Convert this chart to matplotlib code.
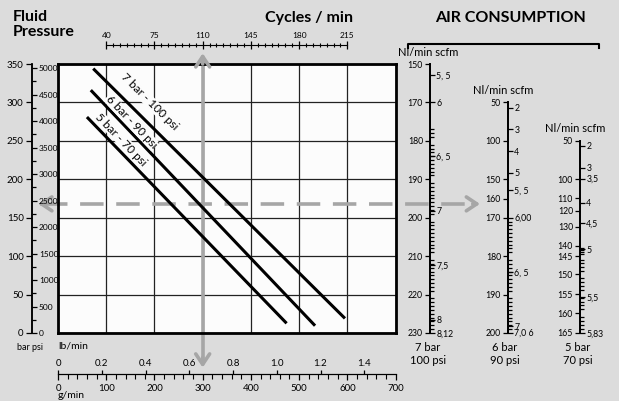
import numpy as np
import matplotlib
matplotlib.use('Agg')
import matplotlib.pyplot as plt

W, H = 619, 401
plt.rcParams['font.family'] = ['Lato', 'DejaVu Sans']

# ---- data ----
pressure_labels = ['7 bar - 100 psi', '6 bar - 90 psi', '5 bar - 70 psi']
flow_start_g = [73, 68, 60]
press_start_bar = [344, 316, 281]
flow_end_g = [595, 533, 474]
press_end_bar = [19, 9.5, 12.6]

cycles_ticks = [40, 75, 110, 145, 180, 215]
bar_ticks = [0, 50, 100, 150, 200, 250, 300, 350]
psi_ticks = [0, 500, 1000, 1500, 2000, 2500, 3000, 3500, 4000, 4500, 5000]
gmin_ticks = [0, 100, 200, 300, 400, 500, 600, 700]
lbmin_ticks = [0, 0.2, 0.4, 0.6, 0.8, 1.0, 1.2, 1.4]

example_flow_g = 300
example_press_bar = 168

# air consumption scales (Nl/min ticks, their row position on the grid, scfm ticks)
nl_7bar = [150, 170, 180, 190, 200, 210, 220, 230]
rows_7bar = [0, 1, 2, 3, 4, 5, 6, 7]
scfm_7bar = [5.5, 6, 6.5, 7, 7.5, 8, 8.12]
scfm_7bar_labels = ['5, 5', '6', '6, 5', '7', '7,5', '8', '8,12']

nl_6bar = [50, 100, 150, 160, 170, 180, 190, 200]
rows_6bar = [1, 2, 3, 3.5, 4, 5, 6, 7]
scfm_6bar = [2, 3, 4, 5, 5.5, 6, 6.5, 7, 7.06]
scfm_6bar_labels = ['2', '3', '4', '5', '5, 5', '6,00', '6, 5', '7', '7,0 6']

nl_5bar = [50, 100, 110, 120, 130, 140, 145, 150, 155, 160, 165]
rows_5bar = [2, 3, 3.5, 3.82, 4.24, 4.73, 5.0, 5.47, 5.99, 6.48, 7]
scfm_5bar = [2, 3, 3.5, 4, 4.5, 5, 5.5, 5.83]
scfm_5bar_labels = ['2', '3', '3,5', '4', '4,5', '5', '5,5', '5,83']

SCFM = 28.3168
PSI = 14.5038
LB = 453.592

BG = '#dcdcdc'
GRAY = '#a6a6a6'

# grid geometry in pixels
GL, GR, GT, GB = 58, 395.6, 64, 333
ROW = (GB - GT) / 7


def fx(x):
    return x / W


def fy(y):
    return 1 - y / H


def bare(a, keep):
    # zero-size axes used as a single graduated line
    a.patch.set_visible(False)
    for k in ['left', 'right', 'top', 'bottom']:
        a.spines[k].set_visible(k == keep)


fig = plt.figure(figsize=(W / 100, H / 100), dpi=100, facecolor=BG)

# ---- main grid ----
ax = fig.add_axes([fx(GL), fy(GB), (GR - GL) / W, (GB - GT) / H])
ax.set_facecolor('#fcfcfc')
ax.set_xlim(0, 700)
ax.set_ylim(0, 350)
ax.set_xticks(gmin_ticks)
ax.set_yticks(bar_ticks)
ax.tick_params(length=0, labelbottom=False, labelleft=False)
ax.grid(True, color='#222222', lw=0.9, zorder=1)
ax.set_axisbelow(True)
for s in ax.spines.values():
    s.set_linewidth(2)

# example arrows (grey)
ax.plot([-30, 862], [example_press_bar] * 2, color=GRAY, lw=2.6,
        dashes=(6.5, 3.5), clip_on=False, zorder=2)
ax.plot([example_flow_g] * 2, [352, -34], color=GRAY, lw=2.6, clip_on=False, zorder=2)
head = dict(arrowstyle='->,head_length=0.75,head_width=0.5', color=GRAY, lw=2.6,
            shrinkA=0, shrinkB=0)
ax.annotate('', xy=(-41, example_press_bar), xytext=(-28, example_press_bar),
            arrowprops=head, annotation_clip=False)
ax.annotate('', xy=(875, example_press_bar), xytext=(860, example_press_bar),
            arrowprops=head, annotation_clip=False)
ax.annotate('', xy=(example_flow_g, 364), xytext=(example_flow_g, 350),
            arrowprops=head, annotation_clip=False)
ax.annotate('', xy=(example_flow_g, -45), xytext=(example_flow_g, -32),
            arrowprops=head, annotation_clip=False)

label_pos = [(190, 301), (152, 275), (131, 252)]
for i in range(3):
    ax.plot([flow_start_g[i], flow_end_g[i]], [press_start_bar[i], press_end_bar[i]],
            color='black', lw=2.2, solid_capstyle='butt', zorder=4)
    p1 = ax.transData.transform((flow_start_g[i], press_start_bar[i]))
    p2 = ax.transData.transform((flow_end_g[i], press_end_bar[i]))
    ang = np.degrees(np.arctan2(p2[1] - p1[1], p2[0] - p1[0]))
    ax.text(*label_pos[i], pressure_labels[i], rotation=ang, rotation_mode='anchor',
            ha='center', va='center', fontsize=8.5, zorder=5,
            bbox=dict(fc='#fcfcfc', ec='none', pad=0.3))

# ---- pressure scale (bar left / psi right) ----
rect_p = [fx(32), fy(GB), 1e-4, (GB - GT) / H]
axp = fig.add_axes(rect_p)
bare(axp, 'left')
axp.set_ylim(0, 350)
axp.set_yticks(bar_ticks)
axp.xaxis.set_visible(False)
axp.spines['left'].set_linewidth(1.1)
axp.tick_params(axis='y', length=4, width=0.9, labelsize=7, pad=2)

axq = fig.add_axes(rect_p)
bare(axq, 'right')
axq.set_ylim(0, 350 * PSI)
axq.yaxis.tick_right()
axq.set_yticks(psi_ticks)
axq.set_yticks(range(250, 5000, 500), minor=True)
axq.xaxis.set_visible(False)
axq.spines['right'].set_linewidth(1.1)
axq.tick_params(axis='y', which='major', length=3.5, width=0.9, labelsize=6, pad=1.5)
axq.tick_params(axis='y', which='minor', length=3, width=0.9)

# ---- cycles / min scale ----
axc = fig.add_axes([fx(GL), fy(45), (GR - GL) / W, 1e-4])
bare(axc, 'top')
axc.set_xlim(5, 250)
axc.yaxis.set_visible(False)
axc.spines['top'].set_bounds(40, 215)
axc.xaxis.tick_top()
axc.set_xticks(cycles_ticks)
axc.set_xticks(np.arange(45, 215, 5), minor=True)
axc.tick_params(axis='x', which='major', direction='inout', length=6, width=0.9,
                labelsize=6, pad=1)
axc.tick_params(axis='x', which='minor', direction='inout', length=3, width=0.8)

# ---- flow scale (g/min below, lb/min above) ----
rect_f = [fx(GL), fy(374), (GR - GL) / W, 1e-4]
axg = fig.add_axes(rect_f)
bare(axg, 'bottom')
axg.set_xlim(0, 700)
axg.yaxis.set_visible(False)
axg.set_xticks(gmin_ticks)
axg.set_xticks(np.arange(20, 700, 20), minor=True)
axg.tick_params(axis='x', which='major', length=4, width=0.9, labelsize=7, pad=3)
axg.tick_params(axis='x', which='minor', length=3.5, width=0.8)

axl = fig.add_axes(rect_f)
bare(axl, 'top')
axl.set_xlim(0, 700 / LB)
axl.xaxis.tick_top()
axl.set_xticks(lbmin_ticks, [f'{v:.1f}' if v else '0' for v in lbmin_ticks])
axl.yaxis.set_visible(False)
axl.tick_params(axis='x', length=3, width=0.9, labelsize=7, pad=1.5)


# ---- air consumption scales ----
def air_scale(x_px, nl, rows, scfm, scfm_labels, fine):
    top = GT + rows[0] * ROW
    rect = [fx(x_px), fy(GB), 1e-4, (GB - top) / H]

    def fwd(v):
        return np.interp(v, nl, rows)

    def inv(d):
        return np.interp(d, rows, nl)

    # Nl/min on the left, fine 1 Nl/min graduation on the right
    a = fig.add_axes(rect)
    bare(a, 'left')
    a.set_yscale('function', functions=(fwd, inv))
    a.set_ylim(nl[-1], nl[0])
    a.set_yticks(nl, [str(v) for v in nl])
    a.set_yticks(range(fine[0], fine[1] + 1), minor=True)
    a.xaxis.set_visible(False)
    a.spines['left'].set_linewidth(1.3)
    a.tick_params(axis='y', which='major', length=3.5, width=0.9, labelsize=6.3, pad=1.5)
    a.tick_params(axis='y', which='minor', left=False, right=True, length=2.8, width=0.9)

    # scfm on the right
    b = fig.add_axes(rect)
    bare(b, 'right')
    b.set_yscale('function', functions=(lambda s: fwd(np.asarray(s) * SCFM),
                                        lambda d: inv(d) / SCFM))
    b.set_ylim(nl[-1] / SCFM, nl[0] / SCFM)
    b.yaxis.tick_right()
    b.set_yticks(scfm, scfm_labels)
    b.yaxis.set_minor_locator(matplotlib.ticker.NullLocator())
    b.xaxis.set_visible(False)
    b.spines['right'].set_linewidth(1.3)
    b.tick_params(axis='y', length=3.5, width=0.9, labelsize=6.3, pad=1)
    return top


t1 = air_scale(430, nl_7bar, rows_7bar, scfm_7bar, scfm_7bar_labels, (177, 229))
t2 = air_scale(508, nl_6bar, rows_6bar, scfm_6bar, scfm_6bar_labels, (171, 199))
t3 = air_scale(580, nl_5bar, rows_5bar, scfm_5bar, scfm_5bar_labels, (141, 164))

# ---- texts ----
fig.text(fx(13), fy(10), 'Fluid\nPressure', ha='left', va='top', fontsize=11.5,
         fontweight='bold', linespacing=1.05)
fig.text(fx(309), fy(18), 'Cycles / min', ha='center', va='center', fontsize=11.5,
         fontweight='bold')
fig.text(fx(510), fy(18), 'AIR CONSUMPTION', ha='center', va='center', fontsize=11.5,
         fontweight='bold')
fig.add_artist(plt.Line2D([fx(408), fx(408), fx(599), fx(599)],
                          [fy(48), fy(44), fy(44), fy(48)], color='black', lw=1.5))
for xc, top in [(428, t1), (503, t2), (575, t3)]:
    fig.text(fx(xc), fy(top - 12), 'Nl/min scfm', ha='center', va='center', fontsize=8)
for xc, txt in [(428, '7 bar\n100 psi'), (505, '6 bar\n90 psi'), (578, '5 bar\n70 psi')]:
    fig.text(fx(xc), fy(354), txt, ha='center', va='center', fontsize=8,
             linespacing=1.15)
fig.text(fx(30), fy(348), 'bar psi', ha='center', va='center', fontsize=6.5)
fig.text(fx(58), fy(346), 'lb/min', ha='left', va='center', fontsize=7.5)
fig.text(fx(58), fy(396), 'g/min', ha='left', va='center', fontsize=7.5)

fig.savefig('out.png', dpi=100, facecolor=BG)
